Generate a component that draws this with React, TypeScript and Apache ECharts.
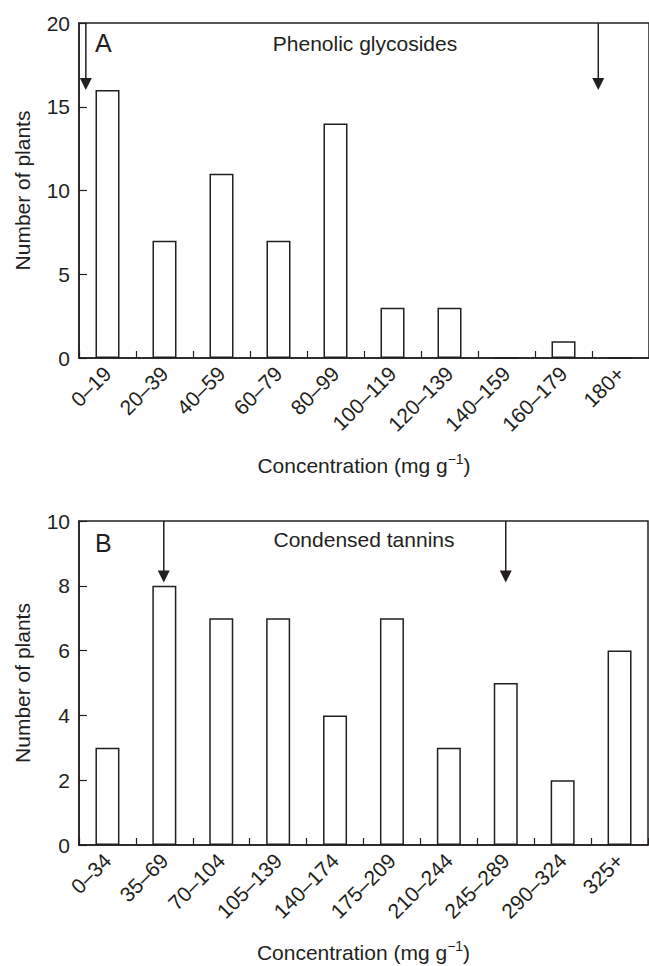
import { useEffect, useRef } from 'react';
import * as echarts from 'echarts';

// ---- data ----
const phenolicBins = ['0–19', '20–39', '40–59', '60–79', '80–99', '100–119', '120–139', '140–159', '160–179', '180+'];
const phenolicCounts = [16, 7, 11, 7, 14, 3, 3, 0, 1, 0];
const tanninBins = ['0–34', '35–69', '70–104', '105–139', '140–174', '175–209', '210–244', '245–289', '290–324', '325+'];
const tanninCounts = [3, 8, 7, 7, 4, 7, 3, 5, 2, 6];
// arrows: [position in bin units from left edge, arrow tip height]
const phenolicArrows = [[0.12, 16], [9.11, 16]];
const tanninArrows = [[1.49, 8.1], [7.5, 8.1]];
const phenolicYMax = 20;
const phenolicYStep = 5;
const tanninYMax = 10;
const tanninYStep = 2;

const INK = '#231f20';
const FONT = '"Liberation Sans", Arial, Helvetica, sans-serif';

export default function App() {
  const ref = useRef<HTMLDivElement>(null);
  useEffect(() => {
    if (!ref.current) return;
    const chart = echarts.init(ref.current, undefined, { renderer: 'svg' });

    const catAxis = (gridIndex: number, data: string[]) => ({
      gridIndex,
      type: 'category',
      data,
      boundaryGap: true,
      axisLine: { show: true, lineStyle: { color: INK, width: 1.5 } },
      axisTick: { show: true, inside: true, length: 7, lineStyle: { color: INK, width: 1.2 } },
      axisLabel: { rotate: 45, margin: 12, fontSize: 21, color: INK, fontFamily: FONT, interval: 0 },
      splitLine: { show: false },
      name: 'Concentration (mg g{sup|−1})',
      nameLocation: 'middle',
      nameGap: 94,
      nameTextStyle: {
        fontSize: 21, color: INK, fontFamily: FONT, lineHeight: 26,
        rich: { sup: { fontSize: 14, color: INK, fontFamily: FONT, lineHeight: 12, verticalAlign: 'top' } },
      },
    });
    const valAxis = (gridIndex: number, max: number, step: number) => ({
      gridIndex,
      type: 'value',
      min: 0,
      max,
      interval: step,
      axisLine: { show: true, lineStyle: { color: INK, width: 1.5 } },
      axisTick: { show: true, inside: true, length: 8, lineStyle: { color: INK, width: 1.2 } },
      axisLabel: { margin: 9, fontSize: 21, color: INK, fontFamily: FONT },
      splitLine: { show: false },
      name: 'Number of plants',
      nameLocation: 'middle',
      nameGap: 46,
      nameTextStyle: { fontSize: 21, color: INK, fontFamily: FONT },
    });
    const hiddenX = (gridIndex: number) => ({ gridIndex, type: 'value', min: 0, max: 10, show: false });

    const arrowSeries = (idx: number, data: number[][], yMax: number) => ({
      type: 'custom',
      xAxisIndex: idx + 2,
      yAxisIndex: idx,
      clip: false,
      data,
      encode: { x: 0, y: 1 },
      renderItem: (_p: any, api: any) => {
        const x = api.value(0);
        const tip = api.value(1);
        const top = api.coord([x, yMax]);
        const end = api.coord([x, tip]);
        return {
          type: 'group',
          children: [
            { type: 'line', shape: { x1: top[0], y1: top[1], x2: end[0], y2: end[1] - 10 }, style: { stroke: INK, lineWidth: 1.5 } },
            { type: 'polygon', shape: { points: [[end[0] - 6, end[1] - 12], [end[0] + 6, end[1] - 12], [end[0], end[1]]] }, style: { fill: INK } },
          ],
        };
      },
    });

    const barSeries = (idx: number, data: number[]) => ({
      type: 'bar',
      xAxisIndex: idx,
      yAxisIndex: idx,
      data,
      barWidth: 24,
      itemStyle: { color: '#ffffff', borderColor: INK, borderWidth: 1.5 },
    });

    chart.setOption({
      animation: false,
      backgroundColor: '#ffffff',
      grid: [
        { left: 79, top: 23, width: 574, height: 335, show: true, borderColor: INK, borderWidth: 1.5, backgroundColor: 'transparent' },
        { left: 79, top: 521, width: 569, height: 333, show: true, borderColor: INK, borderWidth: 1.5, backgroundColor: 'transparent' },
      ],
      xAxis: [catAxis(0, phenolicBins), catAxis(1, tanninBins), hiddenX(0), hiddenX(1)],
      yAxis: [valAxis(0, phenolicYMax, phenolicYStep), valAxis(1, tanninYMax, tanninYStep)],
      series: [
        barSeries(0, phenolicCounts),
        barSeries(1, tanninCounts),
        arrowSeries(0, phenolicArrows, phenolicYMax),
        arrowSeries(1, tanninArrows, tanninYMax),
      ],
      graphic: [
        { type: 'text', left: 95, top: 30, style: { text: 'A', fontSize: 25, fill: INK, fontFamily: FONT } },
        { type: 'text', x: 365, y: 43, style: { text: 'Phenolic glycosides', fontSize: 21, fill: INK, fontFamily: FONT, textAlign: 'center', textVerticalAlign: 'middle' } },
        { type: 'text', left: 95, top: 530, style: { text: 'B', fontSize: 25, fill: INK, fontFamily: FONT } },
        { type: 'text', x: 364, y: 539, style: { text: 'Condensed tannins', fontSize: 21, fill: INK, fontFamily: FONT, textAlign: 'center', textVerticalAlign: 'middle' } },
      ],
    });
    return () => chart.dispose();
  }, []);
  return <div ref={ref} style={{ position: 'fixed', left: 0, top: 0, width: 649, height: 966, background: '#fff' }} />;
}
